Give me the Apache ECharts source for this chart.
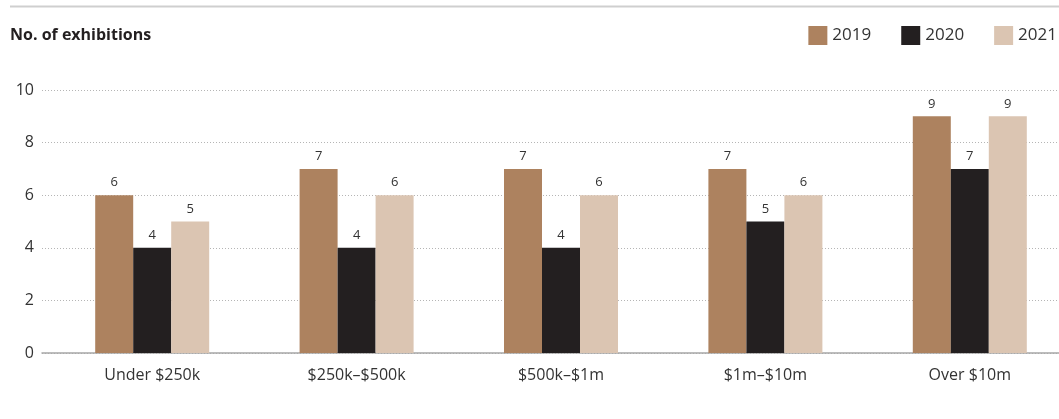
<!DOCTYPE html>
<html><head><meta charset="utf-8">
<script src="https://cdn.jsdelivr.net/npm/echarts@6/dist/echarts.min.js"></script>
<style>html,body{margin:0;padding:0;background:#fff;overflow:hidden}#c{width:1072px;height:419px}</style>
</head><body><div id="c"></div>
<script>
var categories = ['Under $250k', '$250k–$500k', '$500k–$1m', '$1m–$10m', 'Over $10m'];
var seriesNames = ['2019', '2020', '2021'];
var v2019 = [6, 7, 7, 7, 9];
var v2020 = [4, 4, 4, 5, 7];
var v2021 = [5, 6, 6, 6, 9];
var yTicks = [0, 2, 4, 6, 8, 10];
var colors = ['#AD825F', '#231F20', '#DBC5B2'];
var font = '"Open Sans", sans-serif';

var chart = echarts.init(document.getElementById('c'), null, {renderer: 'canvas'});
var mk = function (name, data, i) {
  return {
    name: name, type: 'bar', data: data, xAxisIndex: 0, yAxisIndex: 0,
    barWidth: 38, barGap: '0%', itemStyle: {color: colors[i]},
    label: {show: true, position: 'top', distance: 6, color: '#333', fontSize: 13, fontFamily: font}
  };
};
chart.setOption({
  animation: false,
  textStyle: {fontFamily: font},
  graphic: [
    {type: 'line', shape: {x1: 10, y1: 6.5, x2: 1059, y2: 6.5}, style: {stroke: '#cfcfcf', lineWidth: 2}},
    {type: 'text', left: 10, top: 27, style: {text: 'No. of exhibitions', font: 'bold 16px "Open Sans", sans-serif', fill: '#231F20'}}
  ],
  legend: {
    right: 15, top: 26, padding: 0, itemWidth: 19, itemHeight: 19, itemGap: 30,
    icon: 'rect',
    textStyle: {fontSize: 17, color: '#333', fontFamily: font},
    data: seriesNames
  },
  grid: [
    {left: 50, right: 0, top: 90, bottom: 66},
    {left: 42, right: 13, top: 90, bottom: 66}
  ],
  xAxis: [
    {type: 'category', gridIndex: 0, data: categories,
     axisLine: {show: false}, axisTick: {show: false},
     axisLabel: {color: '#333', fontSize: 16, margin: 14, fontFamily: font}},
    {type: 'category', gridIndex: 1, data: categories,
     axisLine: {show: true, lineStyle: {color: '#a6a6a6', width: 1.5}}, axisTick: {show: false},
     axisLabel: {show: false}}
  ],
  yAxis: [
    {type: 'value', gridIndex: 0, min: 0, max: 10, interval: 2, show: false},
    {type: 'value', gridIndex: 1, min: 0, max: 10, interval: 2,
     axisLine: {show: false}, axisTick: {show: false},
     axisLabel: {color: '#333', fontSize: 16, margin: 8, fontFamily: font,
       formatter: function (v) { return yTicks.indexOf(v) >= 0 ? String(v) : ''; }},
     splitLine: {show: true, lineStyle: {color: '#b5b5b5', type: [1, 2], width: 1}}}
  ],
  series: [mk('2019', v2019, 0), mk('2020', v2020, 1), mk('2021', v2021, 2)]
});
</script></body></html>
